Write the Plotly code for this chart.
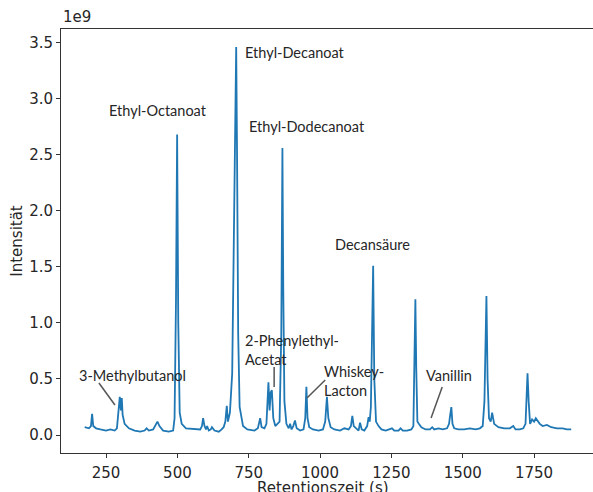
import plotly.graph_objects as go

# Retention time (s) and intensity (in units of 1e9), grouped by region
t_a = [175, 190, 197, 201, 205, 215, 230, 250, 265, 280, 288, 293, 298, 302, 305, 308, 315, 330, 350, 370, 385, 392, 400, 415, 425, 430, 437, 450, 470]
i_a = [0.07, 0.06, 0.08, 0.19, 0.08, 0.06, 0.05, 0.04, 0.05, 0.04, 0.06, 0.20, 0.34, 0.22, 0.33, 0.18, 0.10, 0.06, 0.04, 0.03, 0.04, 0.06, 0.04, 0.05, 0.09, 0.12, 0.08, 0.04, 0.03]

t_b = [485, 490, 495, 499, 503, 508, 515, 530, 560]
i_b = [0.04, 0.15, 1.20, 2.68, 1.00, 0.20, 0.10, 0.06, 0.05]

t_c = [580, 586, 590, 595, 600, 604, 610, 617, 621, 630, 645, 655, 662, 668, 673, 677, 684, 692, 699, 703, 706, 709, 713, 718, 730, 745]
i_c = [0.05, 0.08, 0.15, 0.08, 0.05, 0.08, 0.04, 0.05, 0.07, 0.04, 0.03, 0.05, 0.07, 0.12, 0.26, 0.12, 0.20, 0.55, 1.90, 3.00, 3.46, 2.50, 0.90, 0.25, 0.08, 0.05]

t_d = [770, 782, 787, 790, 795, 805, 812, 816, 819, 823, 827, 831, 836, 843, 849, 858, 864, 868, 871, 875, 882, 890, 895, 900, 906, 912, 918, 930, 942, 948, 952, 956, 962, 975, 995]
i_d = [0.04, 0.06, 0.12, 0.15, 0.07, 0.06, 0.10, 0.30, 0.47, 0.22, 0.38, 0.40, 0.15, 0.08, 0.10, 0.12, 0.90, 2.56, 1.30, 0.30, 0.10, 0.06, 0.10, 0.05, 0.08, 0.13, 0.06, 0.04, 0.05, 0.15, 0.43, 0.15, 0.07, 0.05, 0.04]

t_e = [1010, 1018, 1024, 1029, 1037, 1050, 1070, 1085, 1100, 1108, 1113, 1118, 1128, 1135, 1140, 1146, 1155, 1165, 1170, 1174, 1178, 1182, 1186, 1190, 1196, 1205, 1215, 1230, 1245, 1252, 1260, 1275, 1282, 1290, 1305, 1320]
i_e = [0.05, 0.12, 0.34, 0.15, 0.07, 0.05, 0.04, 0.06, 0.05, 0.08, 0.17, 0.08, 0.06, 0.04, 0.11, 0.05, 0.04, 0.08, 0.16, 0.12, 0.25, 0.90, 1.51, 0.50, 0.12, 0.08, 0.05, 0.04, 0.05, 0.06, 0.04, 0.04, 0.06, 0.04, 0.04, 0.05]

t_f = [1327, 1331, 1334, 1337, 1341, 1346, 1355, 1370, 1385, 1393, 1400, 1415, 1430, 1445, 1452, 1456, 1460, 1464, 1470, 1485, 1505, 1525, 1545, 1560]
i_f = [0.08, 0.60, 1.21, 0.60, 0.12, 0.10, 0.07, 0.05, 0.05, 0.07, 0.05, 0.06, 0.05, 0.06, 0.10, 0.18, 0.25, 0.10, 0.06, 0.05, 0.05, 0.06, 0.05, 0.06]

t_g = [1570, 1576, 1580, 1583, 1587, 1592, 1598, 1603, 1610, 1625, 1645, 1665, 1677, 1685, 1700, 1712, 1720, 1724, 1727, 1731, 1736, 1743, 1750, 1756, 1763, 1770, 1780, 1795, 1810, 1830, 1850, 1865, 1880]
i_g = [0.08, 0.30, 1.00, 1.24, 0.50, 0.15, 0.12, 0.20, 0.10, 0.07, 0.06, 0.06, 0.08, 0.05, 0.05, 0.06, 0.10, 0.35, 0.55, 0.30, 0.10, 0.14, 0.12, 0.15, 0.12, 0.10, 0.08, 0.09, 0.07, 0.06, 0.06, 0.05, 0.05]

retention_time = t_a + t_b + t_c + t_d + t_e + t_f + t_g
intensity_e9 = i_a + i_b + i_c + i_d + i_e + i_f + i_g

x_ticks = [250, 500, 750, 1000, 1250, 1500, 1750]
y_ticks = [0.0, 0.5, 1.0, 1.5, 2.0, 2.5, 3.0, 3.5]

# Compound labels: text, anchor (time, intensity)
label_text = ["Ethyl-Octanoat", "Ethyl-Decanoat", "Ethyl-Dodecanoat", "Decansäure",
              "2-Phenylethyl-<br>Acetat", "3-Methylbutanol", "Whiskey-<br>Lacton", "Vanillin"]
label_x = [253, 730, 744, 1046, 730, 148, 1007, 1365]
label_y = [2.89, 3.41, 2.75, 1.70, 0.76, 0.535, 0.482, 0.535]

# Pointer lines: (x0, y0, x1, y1)
pointer_x0 = [225, 839, 1018, 1428]
pointer_y0 = [0.464, 0.607, 0.491, 0.428]
pointer_x1 = [281, 839, 954, 1389]
pointer_y1 = [0.268, 0.428, 0.330, 0.152]

TXT = "#262626"
AX = "#333333"

fig = go.Figure()
fig.add_trace(go.Scatter(
    x=retention_time, y=intensity_e9, mode="lines",
    line=dict(color="#1f77b4", width=1.8),
    showlegend=False, hoverinfo="skip"))

for tx, xx, yy in zip(label_text, label_x, label_y):
    fig.add_annotation(x=xx, y=yy, xref="x", yref="y", text=tx, showarrow=False,
                       xanchor="left", yanchor="middle", align="left",
                       font=dict(family="Lato", size=14.5, color=TXT))

for x0, y0, x1, y1 in zip(pointer_x0, pointer_y0, pointer_x1, pointer_y1):
    fig.add_shape(type="line", xref="x", yref="y", x0=x0, y0=y0, x1=x1, y1=y1,
                  line=dict(color="#555555", width=1.5))

# "1e9" offset label
fig.add_annotation(x=0, y=1.028, xref="paper", yref="paper", text="1e9", showarrow=False,
                   xanchor="left", yanchor="middle",
                   font=dict(family="DejaVu Sans", size=15, color=TXT))

# Title (cropped at the top of the picture, as in the reference)
fig.add_annotation(x=1010, y=1.062, xref="x", yref="paper",
                   text="Chromatogramm eines Scotch Whisky", showarrow=False,
                   xanchor="center", yanchor="bottom",
                   font=dict(family="Lato", size=24, color=TXT))

# x-axis title (cropped at the bottom, as in the reference)
fig.add_annotation(x=1010, y=-0.082, xref="x", yref="paper",
                   text="Retentionszeit (s)", showarrow=False,
                   xanchor="center", yanchor="middle",
                   font=dict(family="DejaVu Sans", size=15, color=TXT))

fig.update_layout(
    width=596, height=492,
    margin=dict(l=61, r=0, t=29, b=39, autoexpand=False),
    paper_bgcolor="white", plot_bgcolor="white",
    font=dict(family="DejaVu Sans", size=15, color=TXT),
    xaxis=dict(range=[92, 1967], tickvals=x_ticks, ticks="outside", ticklen=4,
               tickcolor=AX, showline=True, linecolor=AX, linewidth=1, mirror=True,
               showgrid=False, zeroline=False, automargin=False, ticklabelstandoff=2),
    yaxis=dict(range=[-0.16, 3.62], tickvals=y_ticks, tickformat=".1f", ticks="outside",
               ticklen=4, tickcolor=AX, showline=True, linecolor=AX, linewidth=1,
               showgrid=False, zeroline=False, automargin=False,
               title=dict(text="Intensität", standoff=2,
                          font=dict(family="DejaVu Sans", size=15, color=TXT))),
)

fig.write_html("out.html", config={"displayModeBar": False},
               post_script="document.body.style.margin='0';document.body.style.overflow='hidden';")
